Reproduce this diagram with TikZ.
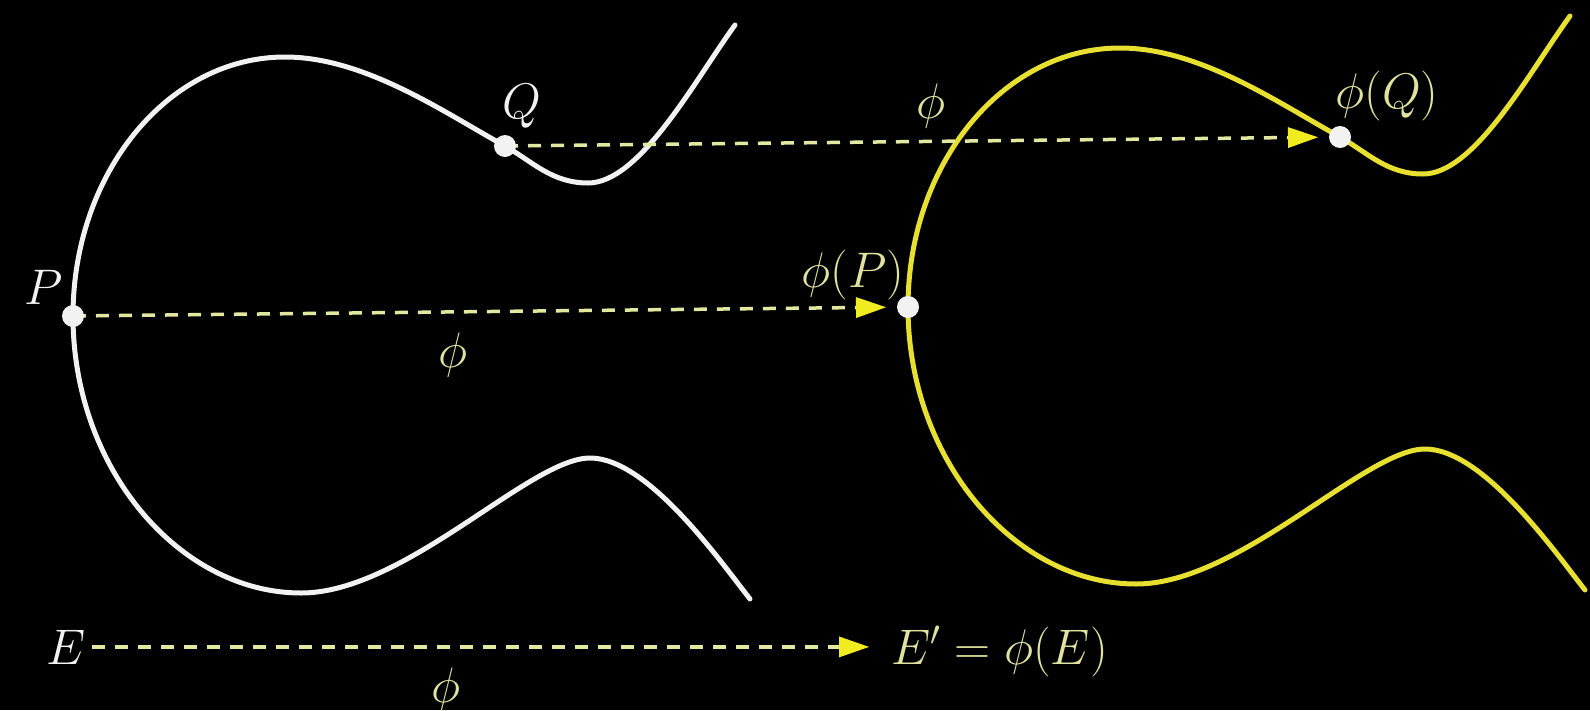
\RequirePackage{fix-cm}
\documentclass[tikz,border=0pt]{standalone}
\usetikzlibrary{arrows.meta}
\definecolor{curvewhite}{HTML}{F2F2F2}
\definecolor{curveyellow}{HTML}{E8E030}
\definecolor{dashpale}{HTML}{E2E8A0}
\definecolor{tipyellow}{HTML}{F0EC20}
\definecolor{labyellow}{HTML}{E0E2A0}
\newcommand{\ellcurve}[1]{%
  \draw[#1] (735,25) .. controls (695,80) and (640,183) .. (588,183)
    .. controls (552,183) and (533,162) .. (505,146)
    .. controls (445,113) and (365,57) .. (285,57)
    .. controls (168,57) and (73,173) .. (73,316)
    .. controls (73,469) and (180,593) .. (301,593)
    .. controls (405,593) and (530,458) .. (590,458)
    .. controls (648,458) and (720,561) .. (750,599);}
\begin{document}
\begin{tikzpicture}[x=1pt,y=-1pt,
  lab/.style={inner sep=0pt, font=\fontsize{50}{60}\selectfont},
  dot/.style={circle, fill=curvewhite, minimum size=22pt, inner sep=0pt},
  maparrow/.style={dashpale, line width=3.5pt, dash pattern=on 13pt off 10pt,
    -{Triangle[length=30pt,width=21pt,line width=0pt,fill=tipyellow,color=tipyellow]}},
  curveline/.style={line width=5pt, line cap=round, line join=round}]
\fill[black] (0,0) rectangle (1590,710);
\useasboundingbox (0,0) rectangle (1590,710);

% curves
\ellcurve{curveline, curvewhite}
\begin{scope}[shift={(835,-9)}]
  \ellcurve{curveline, curveyellow}
\end{scope}

% points
\coordinate (P) at (73,316);
\coordinate (Q) at (505,146);
\coordinate (phiP) at (908,307);
\coordinate (phiQ) at (1340,137);

% labels
\node[lab, curvewhite, anchor=base] (Plab) at (44,304) {$P$};
\node[lab, curvewhite, anchor=base] (Qlab) at (522,118) {$Q$};
\node[lab, labyellow] (phi1) at (453,355) {$\phi$};
\node[lab, labyellow] (phi2) at (931,106) {$\phi$};
\node[lab, labyellow] (phiPlab) at (853,275) {$\phi(P)$};
\node[lab, labyellow] (phiQlab) at (1387,96) {$\phi(Q)$};
\node[lab, curvewhite, anchor=base] (E) at (66,664) {$E$};
\node[lab, labyellow, anchor=base west] (Ep) at (891,664) {$E'=\phi(E)$};
\node[lab, labyellow] (phi3) at (446,690) {$\phi$};

% maps
\draw[maparrow, shorten >=22pt] (P) -- (phiP);
\draw[maparrow, shorten >=22pt] (Q) -- (phiQ);
\draw[maparrow, shorten <=6pt, shorten >=22pt] (E.east) -- (Ep.west |- E.east);

% dots
\node[dot] (Pdot) at (P) {};
\node[dot] (Qdot) at (Q) {};
\node[dot] (phiPdot) at (phiP) {};
\node[dot] (phiQdot) at (phiQ) {};
\end{tikzpicture}
\end{document}
